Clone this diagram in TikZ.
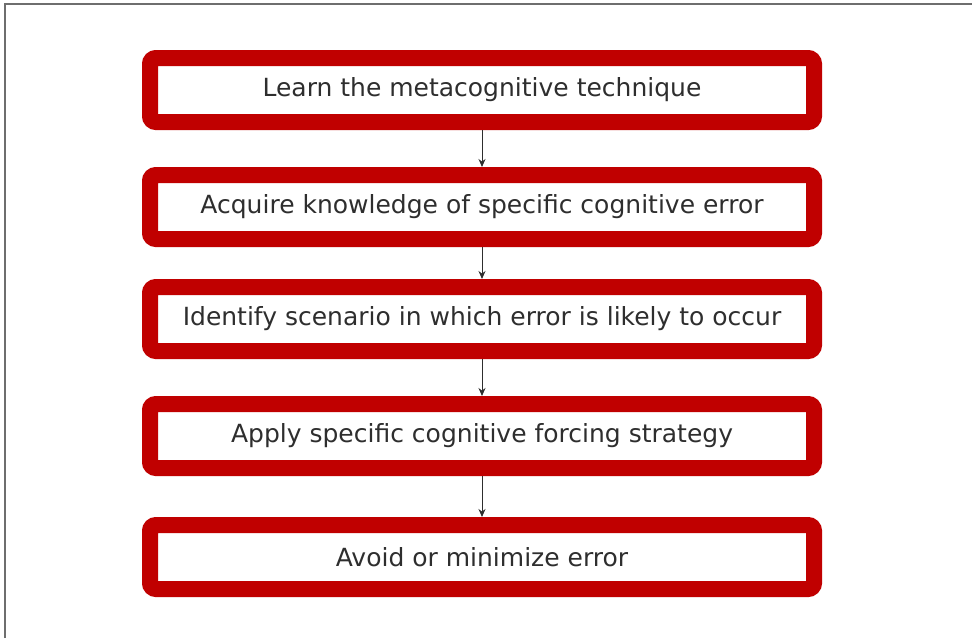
\documentclass[tikz,border=0pt]{standalone}
\usepackage{fontspec}
\setmainfont{DejaVu Sans}
\usepackage{xcolor}
\usetikzlibrary{arrows.meta,positioning}
\definecolor{stepred}{HTML}{C00000}
\definecolor{steptext}{HTML}{2E2E2E}
\definecolor{framegray}{HTML}{6E6E6E}

\begin{document}
\begin{tikzpicture}[
  x=1pt,y=-1pt,
  node distance=37pt,
  stepbox/.style={rectangle,rounded corners=6pt,draw=stepred,line width=16pt,fill=white,minimum width=664pt,minimum height=64pt,align=center,text=steptext,font=\fontsize{25}{29}\selectfont},
  arr/.style={-{Stealth[length=8pt,width=7pt]},draw=steptext,line width=1pt}
]
\useasboundingbox (0,0) rectangle (972,638);
\draw[framegray,line width=1.5pt] (5,638) -- (5,4) -- (972,4);

\node[stepbox] (learn) at (482,90) {Learn the metacognitive technique};
\node[stepbox,below=37pt of learn] (acquire) {Acquire knowledge of specific cognitive error};
\node[stepbox,below=32pt of acquire] (identify) {Identify scenario in which error is likely to occur};
\node[stepbox,below=37pt of identify] (apply) {Apply specific cognitive forcing strategy};
\node[stepbox,below=41pt of apply] (avoid) {Avoid or minimize error};

\draw[arr] (learn) -- (acquire);
\draw[arr] (acquire) -- (identify);
\draw[arr] (identify) -- (apply);
\draw[arr] (apply) -- (avoid);
\end{tikzpicture}
\end{document}
